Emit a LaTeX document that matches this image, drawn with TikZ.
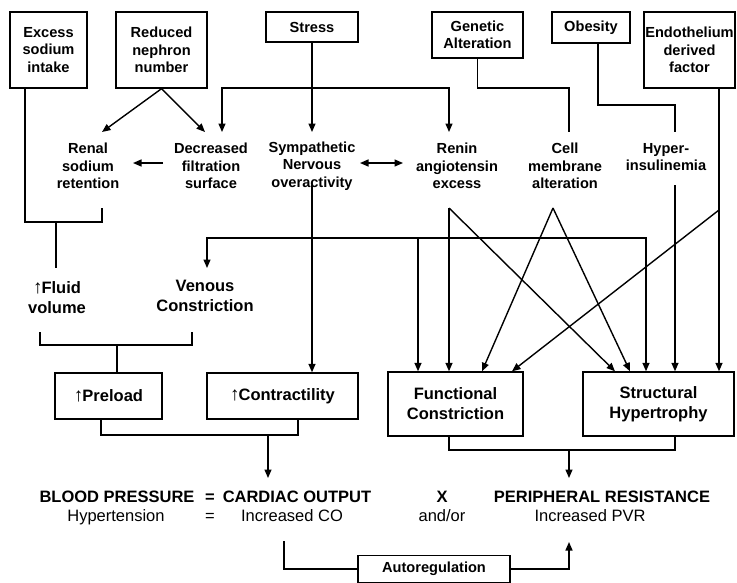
\documentclass[tikz,border=0pt]{standalone}
\usepackage{fontspec}
\setmainfont{Liberation Sans}
\usetikzlibrary{arrows.meta}
\newcommand\smallf{\bfseries\fontsize{14.6}{17.5}\selectfont}
\newcommand\bigf{\bfseries\fontsize{16.5}{20}\selectfont}
\newcommand\regf{\fontsize{16.5}{20}\selectfont}
\newcommand\uparr{{\mdseries\fontsize{19}{19}\selectfont ↑}\kern-1pt}
\tikzset{
  box/.style={draw, line width=1.4pt, align=center, inner sep=0pt, font=\smallf},
  lab/.style={align=center, inner sep=1pt, font=\smallf},
  biglab/.style={align=center, inner sep=1pt, font=\bigf},
  reglab/.style={align=center, inner sep=1pt, font=\regf},
  conn/.style={line width=1.4pt},
  arr/.style={conn, -{Triangle[length=8.5pt,width=7pt]}},
  darr/.style={conn, {Triangle[length=8.5pt,width=7pt]}-{Triangle[length=8.5pt,width=7pt]}},
}
\begin{document}
\begin{tikzpicture}[x=1pt,y=-1pt]
\useasboundingbox (0,0) rectangle (737,582);
\fill[white] (0,0) rectangle (737,582);

% top boxes
\node[box, minimum width=77pt, minimum height=76pt] (excess) at (48.5,50) {Excess\\sodium\\intake};
\node[box, minimum width=91pt, minimum height=76pt] (reduced) at (161.5,50) {Reduced\\nephron\\number};
\node[box, minimum width=92pt, minimum height=30pt] (stress) at (312,27) {Stress};
\node[box, minimum width=91pt, minimum height=46pt] (genetic) at (477.5,35) {Genetic\\Alteration};
\node[box, minimum width=78pt, minimum height=31pt] (obesity) at (591,27.5) {Obesity};
\node[box, minimum width=91pt, minimum height=76pt] (endo) at (689.5,50) {Endothelium\\derived\\factor};

% second level
\node[lab] (renal) at (88,166) {Renal\\sodium\\retention};
\node[lab] (decr) at (211,166) {Decreased\\filtration\\surface};
\node[lab] (symp) at (312,166) {Sympathetic\\Nervous\\overactivity};
\node[lab] (renin) at (457,166) {Renin\\angiotensin\\excess};
\node[lab] (cell) at (565,166) {Cell\\membrane\\alteration};
\node[lab] (hyper) at (666,157) {Hyper-\\insulinemia};

% third level
\node[biglab] (fluid) at (57,298) {\uparr Fluid\\volume};
\node[biglab] (venous) at (205,296) {Venous\\Constriction};

% fourth level boxes
\node[box, font=\bigf, minimum width=107pt, minimum height=46pt] (preload) at (108.5,396) {\uparr Preload};
\node[box, font=\bigf, minimum width=151pt, minimum height=46pt] (contr) at (282.5,396) {\uparr Contractility};
\node[box, font=\bigf, minimum width=135pt, minimum height=64pt] (func) at (455.5,404) {Functional\\Constriction};
\node[box, font=\bigf, minimum width=151pt, minimum height=64pt] (struct) at (658.5,404) {Structural\\Hypertrophy};

% equation
\node[biglab, anchor=base] (bp) at (117,502) {BLOOD PRESSURE};
\node[biglab, anchor=base] (eqa) at (210,502) {=};
\node[biglab, anchor=base] (co) at (297,502) {CARDIAC OUTPUT};
\node[biglab, anchor=base] (xx) at (442,502) {X};
\node[biglab, anchor=base] (pr) at (602,502) {PERIPHERAL RESISTANCE};
\node[reglab, anchor=base] (hyp) at (116,521) {Hypertension};
\node[reglab, anchor=base] (eqb) at (210,521) {=};
\node[reglab, anchor=base] (ico) at (292,521) {Increased CO};
\node[reglab, anchor=base] (andor) at (442,521) {and/or};
\node[reglab, anchor=base] (ipvr) at (590,521) {Increased PVR};

\node[box, minimum width=152pt, minimum height=27pt] (auto) at (434,569) {Autoregulation};

% connectors
\coordinate (fj) at (56,222);
\draw[conn] ([xshift=-23.5pt]excess.south) |- (fj) -| (102,208);
\draw[conn] (fj) -- (56,268);

\draw[arr] (reduced.south) -- (102,132);
\draw[arr] (reduced.south) -- (205,132);
\draw[arr] (163,163) -- (133,163);

\draw[arr] (stress.south) -- (312,132);
\draw[arr] (312,88) -| (222,132);
\draw[arr] (312,88) -| (449,132);
\draw[darr] (360,163) -- (403,163);

\draw[conn] (genetic.south) |- (569,88) -- (569,132);
\draw[conn] ([xshift=7pt]obesity.south) |- (675,105) -- (675,132);

\draw[arr] ([xshift=29.5pt]endo.south) -- (719,0 |- struct.north);
\draw[arr] (719,210) -- (512,0 |- func.north);
\draw[arr] (675,185) -- (675,0 |- struct.north);

\draw[arr] (312,185) -- (312,0 |- contr.north);
\draw[arr] (312,238) -| (207,268);
\draw[arr] (312,238) -| (646,0 |- struct.north);
\draw[arr] (418,238) -- (418,0 |- func.north);

\draw[arr] (449,208) -- (449,0 |- func.north);
\draw[arr] (449,208) -- (615,0 |- struct.north);
\draw[arr] (553,208) -- (482,0 |- func.north);
\draw[arr] (553,208) -- (630,0 |- struct.north);

% brackets
\draw[conn] (40,332) -- (40,345) -- (192,345) -- (192,332);
\draw[conn] (117,345) -- (117,0 |- preload.north);

\draw[conn] (101,0 |- preload.south) -- (101,435) -- (298,435) -- (298,0 |- contr.south);
\draw[arr] (268,435) -- (268,478);

\draw[conn] (449,0 |- func.south) -- (449,450) -- (675,450) -- (675,0 |- struct.south);
\draw[arr] (569,450) -- (569,478);

\draw[conn] (284,541) |- (auto.west);
\draw[arr] (auto.east) -| (569,542);
\end{tikzpicture}
\end{document}
